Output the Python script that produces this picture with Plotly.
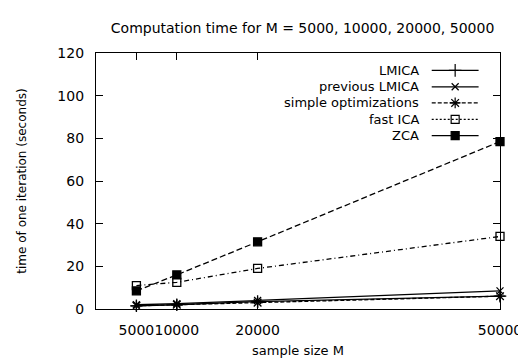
import plotly.graph_objects as go

sizes = [5000, 10000, 20000, 50000]
series_names = ["LMICA", "previous LMICA", "simple optimizations", "fast ICA", "ZCA"]
lmica = [1.5, 2.0, 3.5, 6.0]
prev_lmica = [2.0, 2.5, 4.0, 8.5]
simple_opt = [1.5, 2.0, 3.0, 6.0]
fast_ica = [11.0, 12.5, 19.0, 34.0]
zca = [8.5, 16.0, 31.5, 78.5]
x_ticks = [5000, 10000, 20000, 50000]
y_ticks = [0, 20, 40, 60, 80, 100, 120]

values = [lmica, prev_lmica, simple_opt, fast_ica, zca]
symbols = ["cross-thin-open", "x-thin-open", "asterisk-open", "square-open", "square"]
plot_dash = ["solid", "solid", "4px,2px", "5px,3px,1px,3px", "6px,3px"]
key_dash = ["solid", "solid", "4px,2px", "2px,2px", "solid"]
msize = [9, 7, 9, 8, 8]

FAM = "DejaVu Sans, Arial, sans-serif"

fig = go.Figure()
for name, v, s, d, ms in zip(series_names, values, symbols, plot_dash, msize):
    fig.add_trace(go.Scatter(
        x=sizes, y=v, mode="lines+markers", name=name, showlegend=False,
        line=dict(color="black", width=1.3, dash=d),
        marker=dict(symbol=s, size=ms, color="black",
                    line=dict(color="black", width=1.3)),
        cliponaxis=False,
    ))

# custom gnuplot-style legend (text left, sample right)
row_y = [0.932, 0.868, 0.805, 0.741, 0.677]
for i, (name, s, d, ms) in enumerate(zip(series_names, symbols, key_dash, msize)):
    y = row_y[i]
    fig.add_annotation(x=0.805, y=y, xref="paper", yref="paper", text=name,
                       showarrow=False, xanchor="right", yanchor="middle",
                       font=dict(family=FAM, size=13, color="black"))
    fig.add_shape(type="line", xref="paper", yref="paper", x0=0.831, x1=0.947,
                  y0=y, y1=y, line=dict(color="black", width=1.2, dash=d))
    fig.add_trace(go.Scatter(
        x=[0.889], y=[y], xaxis="x2", yaxis="y2", mode="markers", showlegend=False,
        marker=dict(symbol=s, size=ms, color="black", line=dict(color="black", width=1.2)),
        hoverinfo="skip",
    ))

fig.update_layout(
    width=526, height=359,
    margin=dict(l=88, r=24, t=45, b=48),
    paper_bgcolor="white", plot_bgcolor="white",
    font=dict(family=FAM, size=14, color="black"),
    title=dict(text="Computation time for M = 5000, 10000, 20000, 50000",
               x=0.56, xanchor="center", y=0.945, yanchor="middle",
               font=dict(family=FAM, size=14, color="black")),
    xaxis=dict(range=[0, 50000], tickvals=x_ticks, ticktext=[str(t) for t in x_ticks],
               ticks="inside", ticklen=7, tickcolor="black", mirror="ticks",
               showline=True, linecolor="black", linewidth=1.2, showgrid=False,
               zeroline=False, ticklabelstandoff=8, tickangle=0,
               tickfont=dict(family=FAM, size=14),
               title=dict(text="sample size M", standoff=8,
                          font=dict(family=FAM, size=13))),
    yaxis=dict(range=[0, 120], tickvals=y_ticks,
               ticks="inside", ticklen=7, tickcolor="black", mirror="ticks",
               showline=True, linecolor="black", linewidth=1.2, showgrid=False,
               zeroline=False, ticklabelstandoff=8,
               tickfont=dict(family=FAM, size=14),
               title=dict(text="time of one iteration (seconds)", standoff=28,
                          font=dict(family=FAM, size=12))),
    xaxis2=dict(overlaying="x", range=[0, 1], visible=False, anchor="y2"),
    yaxis2=dict(overlaying="y", range=[0, 1], visible=False),
)
fig.write_html("out.html")
